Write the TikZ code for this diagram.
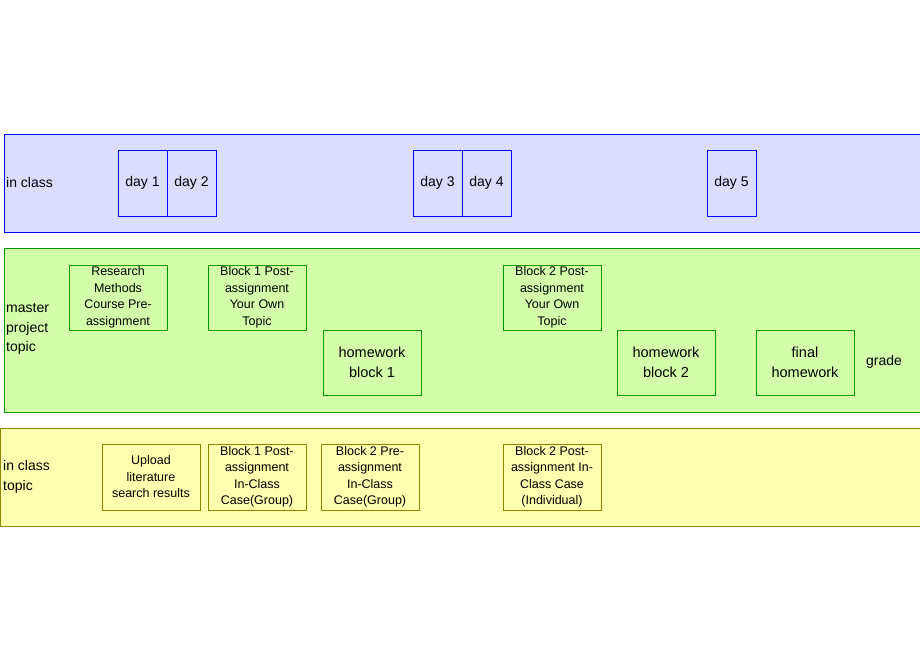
\documentclass[tikz,border=0pt]{standalone}
\usepackage{fontspec}
\setmainfont{Liberation Sans}
\usetikzlibrary{positioning}

\begin{document}
\begin{tikzpicture}[x=1pt,y=-1pt,
  daybox/.style={draw=blue,minimum width=49pt,minimum height=66pt,inner sep=0pt,font=\fontsize{14}{17}\selectfont},
  taskbox/.style={draw=green!60!black,minimum width=98pt,minimum height=65pt,inner sep=0pt,align=center,font=\fontsize{12.5}{16.5}\selectfont},
  hwbox/.style={draw=green!60!black,minimum width=98pt,minimum height=65pt,inner sep=0pt,align=center,font=\fontsize{14.5}{19.5}\selectfont},
  classbox/.style={draw=olive,minimum width=98pt,minimum height=66pt,inner sep=0pt,align=center,font=\fontsize{12.5}{16.5}\selectfont},
  bandlabel/.style={anchor=west,align=left,inner sep=0pt,font=\fontsize{14}{19.5}\selectfont}]

\useasboundingbox (0,0) rectangle (920,660);

\definecolor{classblue}{HTML}{DCDCFF}
\definecolor{projgreen}{HTML}{D4FFAA}
\definecolor{topicyellow}{HTML}{FFFFB0}

% bands
\filldraw[fill=classblue,draw=blue] (4,134) rectangle (925,232);
\filldraw[fill=projgreen,draw=green!60!black] (4,248) rectangle (925,412);
\filldraw[fill=topicyellow,draw=olive] (0,428) rectangle (925,526);

% in class
\node[bandlabel] (inclass) at (6,182) {in class};
\node[daybox] (day1) at (142.5,183) {day 1};
\node[daybox] (day2) at (191.5,183) {day 2};
\node[daybox] (day3) at (437.5,183) {day 3};
\node[daybox] (day4) at (486.5,183) {day 4};
\node[daybox] (day5) at (731.5,183) {day 5};

% master project topic
\node[bandlabel] (master) at (6,329) {master\\project\\topic};
\node[taskbox] (pre) at (118,297.5) {Research\\Methods\\Course Pre-\\assignment};
\node[taskbox] (post1) at (257,297.5) {Block 1 Post-\\assignment\\Your Own\\Topic};
\node[taskbox] (post2) at (552,297.5) {Block 2 Post-\\assignment\\Your Own\\Topic};
\node[hwbox] (hw1) at (372,362.5) {homework\\block 1};
\node[hwbox] (hw2) at (666,362.5) {homework\\block 2};
\node[hwbox] (final) at (805,362.5) {final\\homework};
\node[bandlabel] (grade) at (866,362) {grade};

% in class topic
\node[bandlabel] (topic) at (3,477) {in class\\topic};
\node[classbox] (upload) at (151,477) {Upload\\literature\\search results};
\node[classbox] (case1) at (257,477) {Block 1 Post-\\assignment\\In-Class\\Case(Group)};
\node[classbox] (case2) at (370,477) {Block 2 Pre-\\assignment\\In-Class\\Case(Group)};
\node[classbox] (case3) at (552,477) {Block 2 Post-\\assignment In-\\Class Case\\(Individual)};

\end{tikzpicture}
\end{document}
